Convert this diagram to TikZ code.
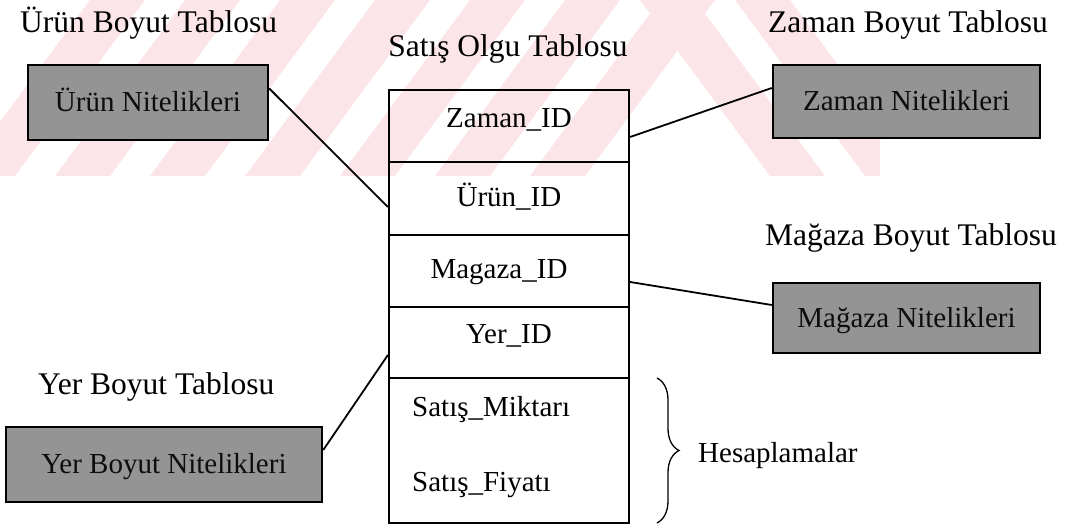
\documentclass[tikz,border=0pt]{standalone}
\usepackage{fontspec}
\setmainfont{Liberation Serif}
\usetikzlibrary{decorations.pathreplacing}
\definecolor{boxgray}{RGB}{148,148,148}
\definecolor{wmpink}{RGB}{252,229,233}

\begin{document}
\begin{tikzpicture}[x=1pt,y=-1pt,
  every node/.style={font=\fontsize{29}{34}\selectfont, inner sep=0pt},
  title/.style={font=\fontsize{31.5}{37}\selectfont, anchor=base west},
  dimbox/.style={draw=black, line width=2.5pt, fill=boxgray, text=black!95,
                 text height=19pt, text depth=0pt},
  factrow/.style={draw=black, line width=2.2pt, minimum width=240pt},
  link/.style={draw=black, line width=1.8pt},
  calcbrace/.style={draw=black, line width=1.3pt, decorate,
                    decoration={brace, amplitude=22pt}},
]
\useasboundingbox (0,0) rectangle (1080,526);

% faint striped background band along the top
\begin{scope}
  \clip (0,0) rectangle (880,176);
  \foreach \b in {-40,55,150,245,340,435,530}
    \fill[wmpink] (\b,176) -- (\b+55,176) -- (\b+185,0) -- (\b+130,0) -- cycle;
  \foreach \t in {640,735}
    \fill[wmpink] (\t,0) -- (\t+55,0) -- (\t+185,176) -- (\t+130,176) -- cycle;
\end{scope}

% headings
\node[title] (tUrun)   at (20,33)  {Ürün Boyut Tablosu};
\node[title] (tZaman)  at (768,33) {Zaman Boyut Tablosu};
\node[title, anchor=base] (tSatis) at (508,57) {Satış Olgu Tablosu};
\node[title] (tMagaza) at (765,246) {Mağaza Boyut Tablosu};
\node[title] (tYer)    at (38,395) {Yer Boyut Tablosu};

% dimension boxes
\node[dimbox, minimum width=240pt, minimum height=75pt] (urun)   at (148,102.5) {Ürün Nitelikleri};
\node[dimbox, minimum width=267pt, minimum height=73pt] (zaman)  at (906.5,101.5) {Zaman Nitelikleri};
\node[dimbox, minimum width=267pt, minimum height=70pt] (magaza) at (906.5,318) {Mağaza Nitelikleri};
\node[dimbox, minimum width=316pt, minimum height=75pt] (yer)    at (164,464.5) {Yer Boyut Nitelikleri};

% fact table rows
\node[factrow, minimum height=72pt]  (r1) at (509,126)   {};
\node[factrow, minimum height=73pt]  (r2) at (509,198.5) {};
\node[factrow, minimum height=72pt]  (r3) at (509,271)   {};
\node[factrow, minimum height=71pt]  (r4) at (509,342.5) {};
\node[factrow, minimum height=145pt] (r5) at (509,450.5) {};

\node[anchor=base] (kZaman)  at (509,128) {Zaman\_ID};
\node[anchor=base] (kUrun)   at (509,207) {Ürün\_ID};
\node[anchor=base] (kMagaza) at (499,279) {Magaza\_ID};
\node[anchor=base] (kYer)    at (509,344) {Yer\_ID};
\node[anchor=base west] (mMiktar) at (412,417) {Satış\_Miktarı};
\node[anchor=base west] (mFiyat)  at (412,492) {Satış\_Fiyatı};

% links between fact table and dimension boxes
\draw[link] ([yshift=14pt]urun.east) -- ([yshift=-8.5pt]r2.west);
\draw[link] ([yshift=-11pt]r1.east) -- ([yshift=13.5pt]zaman.west);
\draw[link] ([yshift=-11pt]r3.east) -- ([yshift=13pt]magaza.west);
\draw[link] ([yshift=-12.5pt]r4.west) -- ([yshift=14.5pt]yer.east);

% measures brace
\coordinate (brTop) at (657,378);
\coordinate (brBot) at (657,523);
\draw[calcbrace] (brTop) -- (brBot);
\node[anchor=base west] (calc) at (698,463) {Hesaplamalar};
\end{tikzpicture}
\end{document}
